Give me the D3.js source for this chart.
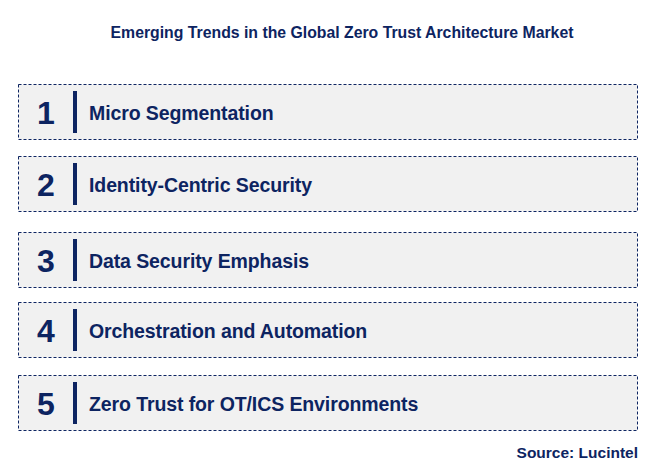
<!DOCTYPE html><html><head><script src="https://d3js.org/d3.v7.min.js"></script>
<style>body{margin:0;background:#fff}</style></head><body><script>
const numbers=["1","2","3","4","5"];
const trends=["Micro Segmentation","Identity-Centric Security","Data Security Emphasis","Orchestration and Automation","Zero Trust for OT/ICS Environments"];
const boxTops=[84,156,232,302,375];
const W=653,H=469,navy="#0d2461";
const svg=d3.select("body").append("svg").attr("width",W).attr("height",H).style("font-family","Arial, Liberation Sans, sans-serif");
svg.append("text").attr("x",342).attr("y",38).attr("text-anchor","middle").attr("font-size",15.8).attr("font-weight","bold").attr("fill",navy).text("Emerging Trends in the Global Zero Trust Architecture Market");
const g=svg.selectAll("g.b").data(trends).join("g").attr("transform",(d,i)=>`translate(18,${boxTops[i]})`);
g.append("rect").attr("x",0.5).attr("y",0.5).attr("width",619).attr("height",55).attr("fill","#f1f1f1").attr("stroke",navy).attr("stroke-dasharray","3,2");
g.append("text").attr("x",28).attr("y",40).attr("text-anchor","middle").attr("font-size",32).attr("font-weight","bold").attr("fill",navy).text((d,i)=>numbers[i]);
g.append("rect").attr("x",55).attr("y",7).attr("width",4).attr("height",42).attr("fill",navy);
g.append("text").attr("x",71).attr("y",36).attr("font-size",19.5).attr("font-weight","bold").attr("fill",navy).attr("letter-spacing",-0.1).text(d=>d);
svg.append("text").attr("x",638).attr("y",458).attr("text-anchor","end").attr("font-size",15.5).attr("font-weight","bold").attr("fill",navy).text("Source: Lucintel");
</script></body></html>
